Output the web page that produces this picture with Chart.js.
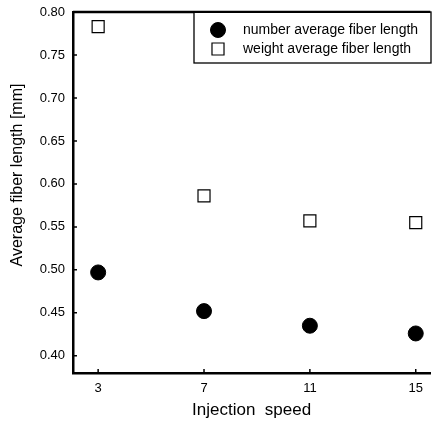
<!DOCTYPE html>
<html>
<head>
<meta charset="utf-8">
<script src="https://cdn.jsdelivr.net/npm/chart.js@4/dist/chart.umd.min.js"></script>
<style>
html,body{margin:0;padding:0;background:#fff;}
#wrap{width:440px;height:421px;}
</style>
</head>
<body>
<div id="wrap"><canvas id="c" width="440" height="421"></canvas></div>
<script>
const speeds = [3, 7, 11, 15];
const numberAvg = [0.497, 0.452, 0.435, 0.426];
const weightAvg = [0.783, 0.586, 0.557, 0.555];
const seriesNames = ['number average fiber length', 'weight average fiber length'];
const xTicks = [3, 7, 11, 15];
const yTicks = [0.40, 0.45, 0.50, 0.55, 0.60, 0.65, 0.70, 0.75, 0.80];
const xTitle = 'Injection  speed';
const yTitle = 'Average fiber length [mm]';

const FONT = '"Liberation Sans", Arial, sans-serif';

const frame = {
  id: 'frame',
  afterDraw(chart) {
    const {ctx, chartArea: a} = chart;
    const xs = chart.scales.x, ys = chart.scales.y;
    ctx.save();
    ctx.strokeStyle = '#000';
    // inward tick marks
    ctx.lineWidth = 1.5;
    ctx.beginPath();
    ys.ticks.forEach(t => {
      const py = ys.getPixelForValue(t.value);
      ctx.moveTo(a.left, py);
      ctx.lineTo(a.left + 4, py);
    });
    xs.ticks.forEach(t => {
      const px = xs.getPixelForValue(t.value);
      ctx.moveTo(px, a.bottom);
      ctx.lineTo(px, a.bottom - 4);
    });
    ctx.stroke();
    // top frame line
    ctx.lineWidth = 2.5;
    ctx.beginPath();
    ctx.moveTo(a.left, a.top);
    ctx.lineTo(a.right, a.top);
    ctx.stroke();
    // y axis title
    ctx.save();
    ctx.translate(18, 175);
    ctx.rotate(-Math.PI / 2);
    ctx.font = '16px ' + FONT;
    ctx.fillStyle = '#000';
    ctx.textAlign = 'center';
    ctx.textBaseline = 'middle';
    ctx.fillText(yTitle, 0, 0);
    ctx.restore();
    // legend box
    const bx = 194, by = a.top, bw = 237, bh = 51;
    ctx.fillStyle = '#fff';
    ctx.fillRect(bx, by + 1, bw, bh - 1);
    ctx.lineWidth = 1.3;
    ctx.strokeRect(bx, by, bw, bh);
    const ds = chart.data.datasets;
    const rows = [30, 49];
    ctx.font = '14px ' + FONT;
    ctx.textBaseline = 'middle';
    ctx.textAlign = 'left';
    ds.forEach((d, i) => {
      const cx = 218, cy = rows[i];
      ctx.beginPath();
      if (d.pointStyle === 'circle') {
        ctx.arc(cx, cy, d.pointRadius, 0, Math.PI * 2);
      } else {
        const s = d.pointRadius / Math.SQRT2;
        ctx.rect(cx - s, cy - s, 2 * s, 2 * s);
      }
      ctx.fillStyle = d.pointBackgroundColor;
      ctx.fill();
      ctx.lineWidth = d.pointBorderWidth;
      ctx.strokeStyle = '#000';
      ctx.stroke();
      ctx.fillStyle = '#000';
      ctx.fillText(d.label, 243, cy);
    });
    ctx.restore();
  }
};

new Chart(document.getElementById('c'), {
  type: 'scatter',
  data: {
    datasets: [
      {
        label: seriesNames[0],
        data: speeds.map((x, i) => ({x, y: numberAvg[i]})),
        pointStyle: 'circle',
        pointRadius: 7.5,
        pointBackgroundColor: '#000',
        pointBorderColor: '#000',
        pointBorderWidth: 1
      },
      {
        label: seriesNames[1],
        data: speeds.map((x, i) => ({x, y: weightAvg[i]})),
        pointStyle: 'rect',
        pointRadius: 8.5,
        pointBackgroundColor: '#fff',
        pointBorderColor: '#000',
        pointBorderWidth: 1.2
      }
    ]
  },
  options: {
    responsive: false,
    animation: false,
    layout: {padding: {top: 12, right: 0, left: 0, bottom: 0}},
    plugins: {legend: {display: false}, tooltip: {enabled: false}},
    scales: {
      x: {
        type: 'linear',
        min: 2.05,
        max: 15.55,
        afterBuildTicks: s => { s.ticks = xTicks.map(v => ({value: v})); },
        afterFit: s => { s.height = 48; s.paddingLeft = 0; s.paddingRight = 0; },
        grid: {display: false, drawOnChartArea: false, tickLength: 0},
        border: {display: true, color: '#000', width: 2.5},
        ticks: {color: '#000', font: {family: FONT, size: 13}, padding: 8, maxRotation: 0},
        title: {display: true, text: xTitle, color: '#000', font: {family: FONT, size: 17}, padding: {top: 3, bottom: 0}}
      },
      y: {
        type: 'linear',
        min: 0.38,
        max: 0.80,
        afterBuildTicks: s => { s.ticks = yTicks.map(v => ({value: v})); },
        afterFit: s => { s.width = 73; s.paddingTop = 0; s.paddingBottom = 0; },
        grid: {display: false, drawOnChartArea: false, tickLength: 0},
        border: {display: true, color: '#000', width: 2.5},
        ticks: {color: '#000', font: {family: FONT, size: 13, lineHeight: 1}, padding: 8,
          callback: v => v.toFixed(2)},
        title: {display: false}
      }
    }
  },
  plugins: [frame]
});
</script>
</body>
</html>
